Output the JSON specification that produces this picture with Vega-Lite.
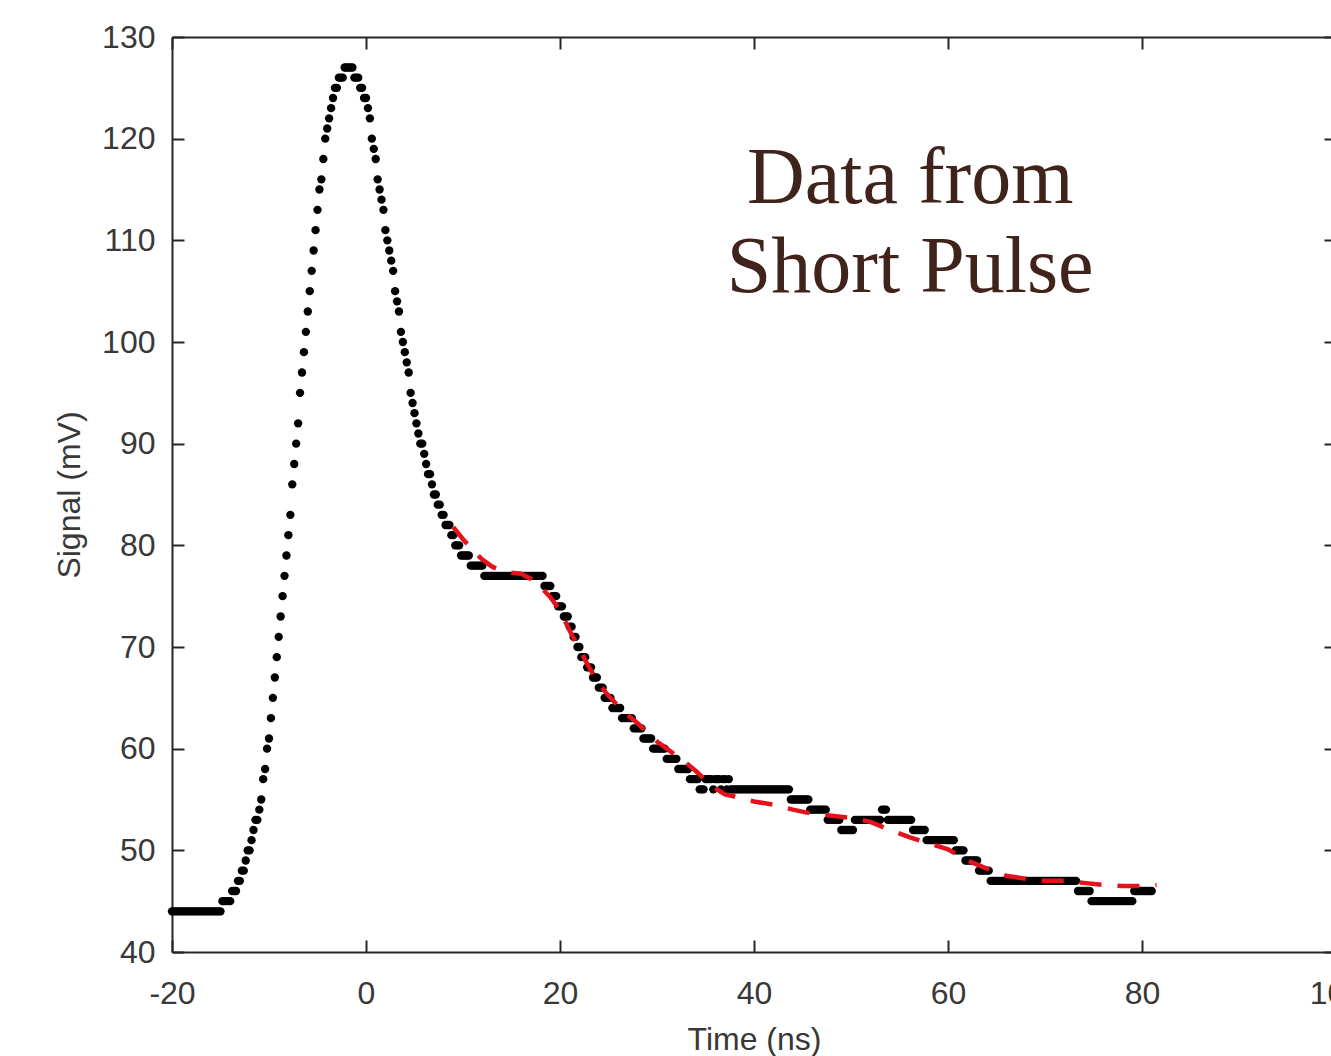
{
"$schema": "https://vega.github.io/schema/vega-lite/v6.json",
"width": 1164, "height": 915,
"autosize": {"type": "none"},
"padding": {"left": 172, "top": 37, "right": 0, "bottom": 104},
"background": "white",
"config": {
 "view": {"stroke": null},
 "axis": {"grid": false, "labelFont": "Liberation Sans", "labelFontSize": 32, "labelColor": "#383838", "titleFont": "Liberation Sans", "titleFontSize": 32, "titleFontWeight": "normal", "titleColor": "#383838", "domainColor": "#262626", "domainWidth": 2, "tickColor": "#262626", "tickWidth": 2, "tickSize": -12, "labelFlush": false, "labelOverlap": false}
},
"datasets": {
"signal": [
{"t":-20,"v":44},{"t":-19.8,"v":44},{"t":-19.6,"v":44},{"t":-19.4,"v":44},{"t":-19.2,"v":44},{"t":-19,"v":44},{"t":-18.8,"v":44},{"t":-18.6,"v":44},{"t":-18.4,"v":44},{"t":-18.2,"v":44},{"t":-18,"v":44},{"t":-17.8,"v":44},{"t":-17.6,"v":44},{"t":-17.4,"v":44},{"t":-17.2,"v":44},{"t":-17,"v":44},{"t":-16.8,"v":44},{"t":-16.6,"v":44},{"t":-16.4,"v":44},{"t":-16.2,"v":44},{"t":-16,"v":44},{"t":-15.8,"v":44},{"t":-15.6,"v":44},{"t":-15.4,"v":44},{"t":-15.2,"v":44},{"t":-15,"v":44},
{"t":-14.8,"v":45},{"t":-14.6,"v":45},{"t":-14.4,"v":45},{"t":-14.2,"v":45},{"t":-14,"v":45},{"t":-13.8,"v":46},{"t":-13.6,"v":46},{"t":-13.4,"v":46},{"t":-13.2,"v":47},{"t":-13,"v":47},{"t":-12.8,"v":48},{"t":-12.6,"v":48},{"t":-12.4,"v":49},{"t":-12.2,"v":50},{"t":-12,"v":50},{"t":-11.8,"v":51},{"t":-11.6,"v":52},{"t":-11.4,"v":53},{"t":-11.2,"v":53},{"t":-11,"v":54},{"t":-10.8,"v":55},{"t":-10.6,"v":57},{"t":-10.4,"v":58},{"t":-10.2,"v":60},{"t":-10,"v":61},
{"t":-9.8,"v":63},{"t":-9.6,"v":65},{"t":-9.4,"v":67},{"t":-9.2,"v":69},{"t":-9,"v":71},{"t":-8.8,"v":73},{"t":-8.6,"v":75},{"t":-8.4,"v":77},{"t":-8.2,"v":79},{"t":-8,"v":81},{"t":-7.8,"v":83},{"t":-7.6,"v":86},{"t":-7.4,"v":88},{"t":-7.2,"v":90},{"t":-7,"v":92},{"t":-6.8,"v":95},{"t":-6.6,"v":97},{"t":-6.4,"v":99},{"t":-6.2,"v":101},{"t":-6,"v":103},{"t":-5.8,"v":105},{"t":-5.6,"v":107},{"t":-5.4,"v":109},{"t":-5.2,"v":111},{"t":-5,"v":113},{"t":-4.8,"v":115},{"t":-4.6,"v":116},{"t":-4.4,"v":118},{"t":-4.2,"v":120},{"t":-4,"v":121},{"t":-3.8,"v":122},{"t":-3.6,"v":123},{"t":-3.4,"v":124},{"t":-3.2,"v":125},{"t":-3,"v":125},{"t":-2.8,"v":126},{"t":-2.6,"v":126},{"t":-2.4,"v":126},{"t":-2.2,"v":127},{"t":-2,"v":127},{"t":-1.8,"v":127},{"t":-1.6,"v":127},{"t":-1.4,"v":127},{"t":-1.2,"v":126},{"t":-1,"v":126},{"t":-0.8,"v":126},{"t":-0.6,"v":125},{"t":-0.4,"v":125},{"t":-0.2,"v":124},
{"t":0,"v":124},{"t":0.2,"v":123},{"t":0.4,"v":122},{"t":0.6,"v":120},{"t":0.8,"v":119},{"t":1,"v":118},{"t":1.2,"v":116},{"t":1.4,"v":115},{"t":1.6,"v":114},{"t":1.8,"v":113},{"t":2,"v":111},{"t":2.2,"v":110},{"t":2.4,"v":109},{"t":2.6,"v":108},{"t":2.8,"v":107},{"t":3,"v":105},{"t":3.2,"v":104},{"t":3.4,"v":103},{"t":3.6,"v":101},{"t":3.8,"v":100},{"t":4,"v":99},{"t":4.2,"v":98},{"t":4.4,"v":97},{"t":4.6,"v":95},{"t":4.8,"v":94},{"t":5,"v":93},{"t":5.2,"v":92},{"t":5.4,"v":91},{"t":5.6,"v":90},{"t":5.8,"v":90},{"t":6,"v":89},{"t":6.2,"v":88},{"t":6.4,"v":87},{"t":6.6,"v":87},{"t":6.8,"v":86},{"t":7,"v":85},{"t":7.2,"v":85},{"t":7.4,"v":84},{"t":7.6,"v":84},{"t":7.8,"v":83},{"t":8,"v":83},{"t":8.2,"v":82},{"t":8.4,"v":82},{"t":8.6,"v":82},{"t":8.8,"v":81},{"t":9,"v":81},{"t":9.2,"v":80},{"t":9.4,"v":80},{"t":9.6,"v":80},{"t":9.8,"v":79},
{"t":10,"v":79},{"t":10.2,"v":79},{"t":10.4,"v":79},{"t":10.6,"v":79},{"t":10.8,"v":78},{"t":11,"v":78},{"t":11.2,"v":78},{"t":11.4,"v":78},{"t":11.6,"v":78},{"t":11.8,"v":78},{"t":12,"v":78},{"t":12.2,"v":77},{"t":12.4,"v":77},{"t":12.6,"v":77},{"t":12.8,"v":77},{"t":13,"v":77},{"t":13.2,"v":77},{"t":13.4,"v":77},{"t":13.6,"v":77},{"t":13.8,"v":77},{"t":14,"v":77},{"t":14.2,"v":77},{"t":14.4,"v":77},{"t":14.6,"v":77},{"t":14.8,"v":77},{"t":15,"v":77},{"t":15.2,"v":77},{"t":15.4,"v":77},{"t":15.6,"v":77},{"t":15.8,"v":77},{"t":16,"v":77},{"t":16.2,"v":77},{"t":16.4,"v":77},{"t":16.6,"v":77},{"t":16.8,"v":77},{"t":17,"v":77},{"t":17.2,"v":77},{"t":17.4,"v":77},{"t":17.6,"v":77},{"t":17.8,"v":77},{"t":18,"v":77},{"t":18.2,"v":77},
{"t":18.4,"v":76},{"t":18.6,"v":76},{"t":18.8,"v":76},{"t":19,"v":76},{"t":19.2,"v":75},{"t":19.4,"v":75},{"t":19.6,"v":75},{"t":19.8,"v":74},{"t":20,"v":74},{"t":20.2,"v":74},{"t":20.4,"v":73},{"t":20.6,"v":73},{"t":20.8,"v":73},{"t":21,"v":72},{"t":21.2,"v":72},{"t":21.4,"v":71},{"t":21.6,"v":71},{"t":21.8,"v":70},{"t":22,"v":70},{"t":22.2,"v":69},{"t":22.4,"v":69},{"t":22.6,"v":69},{"t":22.8,"v":68},{"t":23,"v":68},{"t":23.2,"v":68},{"t":23.4,"v":67},{"t":23.6,"v":67},{"t":23.8,"v":67},{"t":24,"v":66},{"t":24.2,"v":66},{"t":24.4,"v":66},{"t":24.6,"v":65},{"t":24.8,"v":65},{"t":25,"v":65},{"t":25.2,"v":65},{"t":25.4,"v":64},{"t":25.6,"v":64},{"t":25.8,"v":64},{"t":26,"v":64},{"t":26.2,"v":64},{"t":26.4,"v":63},{"t":26.6,"v":63},{"t":26.8,"v":63},{"t":27,"v":63},{"t":27.2,"v":63},{"t":27.4,"v":63},{"t":27.6,"v":62},{"t":27.8,"v":62},{"t":28,"v":62},{"t":28.2,"v":62},{"t":28.4,"v":62},{"t":28.6,"v":61},{"t":28.8,"v":61},{"t":29,"v":61},{"t":29.2,"v":61},{"t":29.4,"v":61},{"t":29.6,"v":60},{"t":29.8,"v":60},
{"t":30,"v":60},{"t":30.2,"v":60},{"t":30.4,"v":60},{"t":30.6,"v":60},{"t":30.8,"v":60},{"t":31,"v":59},{"t":31.2,"v":59},{"t":31.4,"v":59},{"t":31.6,"v":59},{"t":31.8,"v":59},{"t":32,"v":59},{"t":32.2,"v":58},{"t":32.4,"v":58},{"t":32.6,"v":58},{"t":32.8,"v":58},{"t":33,"v":58},{"t":33.2,"v":58},{"t":33.4,"v":57},{"t":33.6,"v":57},{"t":33.8,"v":57},{"t":34,"v":57},{"t":34.2,"v":57},{"t":34.4,"v":56},{"t":34.6,"v":56},{"t":34.8,"v":56},{"t":35,"v":57},{"t":35.2,"v":57},{"t":35.4,"v":57},{"t":35.6,"v":57},{"t":35.8,"v":56},{"t":36,"v":57},{"t":36.2,"v":57},{"t":36.4,"v":57},{"t":36.6,"v":56},{"t":36.8,"v":57},{"t":37,"v":57},{"t":37.2,"v":56},{"t":37.4,"v":57},{"t":37.6,"v":56},{"t":37.8,"v":56},
{"t":38,"v":56},{"t":38.2,"v":56},{"t":38.4,"v":56},{"t":38.6,"v":56},{"t":38.8,"v":56},{"t":39,"v":56},{"t":39.2,"v":56},{"t":39.4,"v":56},{"t":39.6,"v":56},{"t":39.8,"v":56},{"t":40,"v":56},{"t":40.2,"v":56},{"t":40.4,"v":56},{"t":40.6,"v":56},{"t":40.8,"v":56},{"t":41,"v":56},{"t":41.2,"v":56},{"t":41.4,"v":56},{"t":41.6,"v":56},{"t":41.8,"v":56},{"t":42,"v":56},{"t":42.2,"v":56},{"t":42.4,"v":56},{"t":42.6,"v":56},{"t":42.8,"v":56},{"t":43,"v":56},{"t":43.2,"v":56},{"t":43.4,"v":56},{"t":43.6,"v":56},{"t":43.8,"v":55},{"t":44,"v":55},{"t":44.2,"v":55},{"t":44.4,"v":55},{"t":44.6,"v":55},{"t":44.8,"v":55},{"t":45,"v":55},{"t":45.2,"v":55},{"t":45.4,"v":55},{"t":45.6,"v":55},{"t":45.8,"v":54},{"t":46,"v":54},{"t":46.2,"v":54},{"t":46.4,"v":54},{"t":46.6,"v":54},{"t":46.8,"v":54},{"t":47,"v":54},{"t":47.2,"v":54},{"t":47.4,"v":54},{"t":47.6,"v":53},{"t":47.8,"v":53},{"t":48,"v":53},{"t":48.2,"v":53},{"t":48.4,"v":53},{"t":48.6,"v":53},{"t":48.8,"v":53},{"t":49,"v":52},{"t":49.2,"v":52},{"t":49.4,"v":52},{"t":49.6,"v":52},{"t":49.8,"v":52},
{"t":50,"v":52},{"t":50.2,"v":52},{"t":50.4,"v":53},{"t":50.6,"v":53},{"t":50.8,"v":53},{"t":51,"v":53},{"t":51.2,"v":53},{"t":51.4,"v":53},{"t":51.6,"v":53},{"t":51.8,"v":53},{"t":52,"v":53},{"t":52.2,"v":53},{"t":52.4,"v":53},{"t":52.6,"v":53},{"t":52.8,"v":53},{"t":53,"v":53},{"t":53.2,"v":54},{"t":53.4,"v":54},{"t":53.6,"v":54},{"t":53.8,"v":53},{"t":54,"v":53},{"t":54.2,"v":53},{"t":54.4,"v":53},{"t":54.6,"v":53},{"t":54.8,"v":53},{"t":55,"v":53},{"t":55.2,"v":53},{"t":55.4,"v":53},{"t":55.6,"v":53},{"t":55.8,"v":53},{"t":56,"v":53},{"t":56.2,"v":53},{"t":56.4,"v":52},{"t":56.6,"v":52},{"t":56.8,"v":52},{"t":57,"v":52},{"t":57.2,"v":52},{"t":57.4,"v":52},{"t":57.6,"v":52},{"t":57.8,"v":51},{"t":58,"v":51},{"t":58.2,"v":51},{"t":58.4,"v":51},{"t":58.6,"v":51},{"t":58.8,"v":51},{"t":59,"v":51},{"t":59.2,"v":51},{"t":59.4,"v":51},{"t":59.6,"v":51},{"t":59.8,"v":51},
{"t":60,"v":51},{"t":60.2,"v":51},{"t":60.4,"v":51},{"t":60.6,"v":51},{"t":60.8,"v":50},{"t":61,"v":50},{"t":61.2,"v":50},{"t":61.4,"v":50},{"t":61.6,"v":50},{"t":61.8,"v":49},{"t":62,"v":49},{"t":62.2,"v":49},{"t":62.4,"v":49},{"t":62.6,"v":49},{"t":62.8,"v":49},{"t":63,"v":49},{"t":63.2,"v":48},{"t":63.4,"v":48},{"t":63.6,"v":48},{"t":63.8,"v":48},{"t":64,"v":48},{"t":64.2,"v":48},{"t":64.4,"v":47},{"t":64.6,"v":47},{"t":64.8,"v":47},{"t":65,"v":47},{"t":65.2,"v":47},{"t":65.4,"v":47},{"t":65.6,"v":47},{"t":65.8,"v":47},{"t":66,"v":47},{"t":66.2,"v":47},{"t":66.4,"v":47},{"t":66.6,"v":47},{"t":66.8,"v":47},{"t":67,"v":47},{"t":67.2,"v":47},{"t":67.4,"v":47},{"t":67.6,"v":47},{"t":67.8,"v":47},{"t":68,"v":47},{"t":68.2,"v":47},{"t":68.4,"v":47},{"t":68.6,"v":47},{"t":68.8,"v":47},{"t":69,"v":47},{"t":69.2,"v":47},{"t":69.4,"v":47},{"t":69.6,"v":47},{"t":69.8,"v":47},
{"t":70,"v":47},{"t":70.2,"v":47},{"t":70.4,"v":47},{"t":70.6,"v":47},{"t":70.8,"v":47},{"t":71,"v":47},{"t":71.2,"v":47},{"t":71.4,"v":47},{"t":71.6,"v":47},{"t":71.8,"v":47},{"t":72,"v":47},{"t":72.2,"v":47},{"t":72.4,"v":47},{"t":72.6,"v":47},{"t":72.8,"v":47},{"t":73,"v":47},{"t":73.2,"v":47},{"t":73.4,"v":46},{"t":73.6,"v":46},{"t":73.8,"v":46},{"t":74,"v":46},{"t":74.2,"v":46},{"t":74.4,"v":46},{"t":74.6,"v":46},{"t":74.8,"v":45},{"t":75,"v":45},{"t":75.2,"v":45},{"t":75.4,"v":45},{"t":75.6,"v":45},{"t":75.8,"v":45},{"t":76,"v":45},{"t":76.2,"v":45},{"t":76.4,"v":45},{"t":76.6,"v":45},{"t":76.8,"v":45},{"t":77,"v":45},{"t":77.2,"v":45},{"t":77.4,"v":45},{"t":77.6,"v":45},{"t":77.8,"v":45},{"t":78,"v":45},{"t":78.2,"v":45},{"t":78.4,"v":45},{"t":78.6,"v":45},{"t":78.8,"v":45},{"t":79,"v":45},{"t":79.2,"v":46},{"t":79.4,"v":46},{"t":79.6,"v":46},{"t":79.8,"v":46},{"t":80,"v":46},{"t":80.2,"v":46},{"t":80.4,"v":46},{"t":80.6,"v":46},{"t":80.8,"v":46},{"t":81,"v":46}
],
"fit": [
{"t":9,"v":81.8},{"t":10,"v":80.6},{"t":11,"v":79.5},{"t":12,"v":78.6},{"t":13,"v":77.9},{"t":14,"v":77.5},{"t":15,"v":77.3},{"t":16,"v":77.2},{"t":17,"v":76.7},{"t":18,"v":75.9},{"t":19,"v":74.9},{"t":20,"v":73.6},{"t":21,"v":71.6},{"t":22,"v":69.8},{"t":23,"v":68},{"t":24,"v":66.4},{"t":25,"v":65.2},{"t":26,"v":64.2},{"t":27,"v":63.3},{"t":28,"v":62.5},{"t":29,"v":61.6},{"t":30,"v":60.7},{"t":31,"v":60},{"t":32,"v":59.3},{"t":33,"v":58.6},{"t":34,"v":57.8},{"t":35,"v":56.9},{"t":36,"v":56.1},{"t":37,"v":55.5},{"t":38,"v":55.3},{"t":40,"v":54.8},{"t":42,"v":54.5},{"t":44,"v":54},{"t":46,"v":53.6},{"t":48,"v":53.4},{"t":50,"v":53.2},{"t":52,"v":52.8},{"t":54,"v":52},{"t":56,"v":51.3},{"t":58,"v":50.7},{"t":60,"v":50.1},{"t":62,"v":49},{"t":64,"v":48.2},{"t":66,"v":47.5},{"t":68,"v":47.2},{"t":70,"v":47},{"t":72,"v":47},{"t":74,"v":46.8},{"t":76,"v":46.6},{"t":78,"v":46.5},{"t":80,"v":46.5},{"t":81.5,"v":46.6}
]
},
"layer": [
 {"data": {"name": "signal"},
  "mark": {"type": "circle", "size": 70, "color": "#000000", "opacity": 1},
  "encoding": {
   "x": {"field": "t", "type": "quantitative", "scale": {"domain": [-20, 100], "nice": false, "zero": false},
         "axis": {"orient": "bottom", "values": [-20, 0, 20, 40, 60, 80, 100], "labelExpr": "'' + datum.value", "title": "Time (ns)", "labelPadding": 38, "titlePadding": 15}},
   "y": {"field": "v", "type": "quantitative", "scale": {"domain": [40, 130], "nice": false, "zero": false},
         "axis": {"orient": "left", "values": [40, 50, 60, 70, 80, 90, 100, 110, 120, 130], "title": "Signal (mV)", "labelPadding": 29, "titlePadding": 15}}
  }},
 {"data": {"name": "fit"},
  "mark": {"type": "line", "color": "#e3121b", "strokeWidth": 4.5, "strokeDash": [22, 16]},
  "encoding": {
   "x": {"field": "t", "type": "quantitative", "axis": {"orient": "top", "labels": false, "title": null, "values": [-20, 0, 20, 40, 60, 80, 100]}},
   "y": {"field": "v", "type": "quantitative", "axis": {"orient": "right", "labels": false, "title": null, "values": [40, 50, 60, 70, 80, 90, 100, 110, 120, 130]}}
  }},
 {"data": {"values": [{}]},
  "mark": {"type": "text", "text": ["Data from", "Short Pulse"], "font": "Liberation Serif", "fontSize": 80, "color": "#40231a", "align": "center", "baseline": "alphabetic", "lineHeight": 89},
  "encoding": {
   "x": {"datum": 56.1, "type": "quantitative", "axis": null},
   "y": {"datum": 113.7, "type": "quantitative", "axis": null}
  }}
],
"resolve": {"axis": {"x": "independent", "y": "independent"}}
}
